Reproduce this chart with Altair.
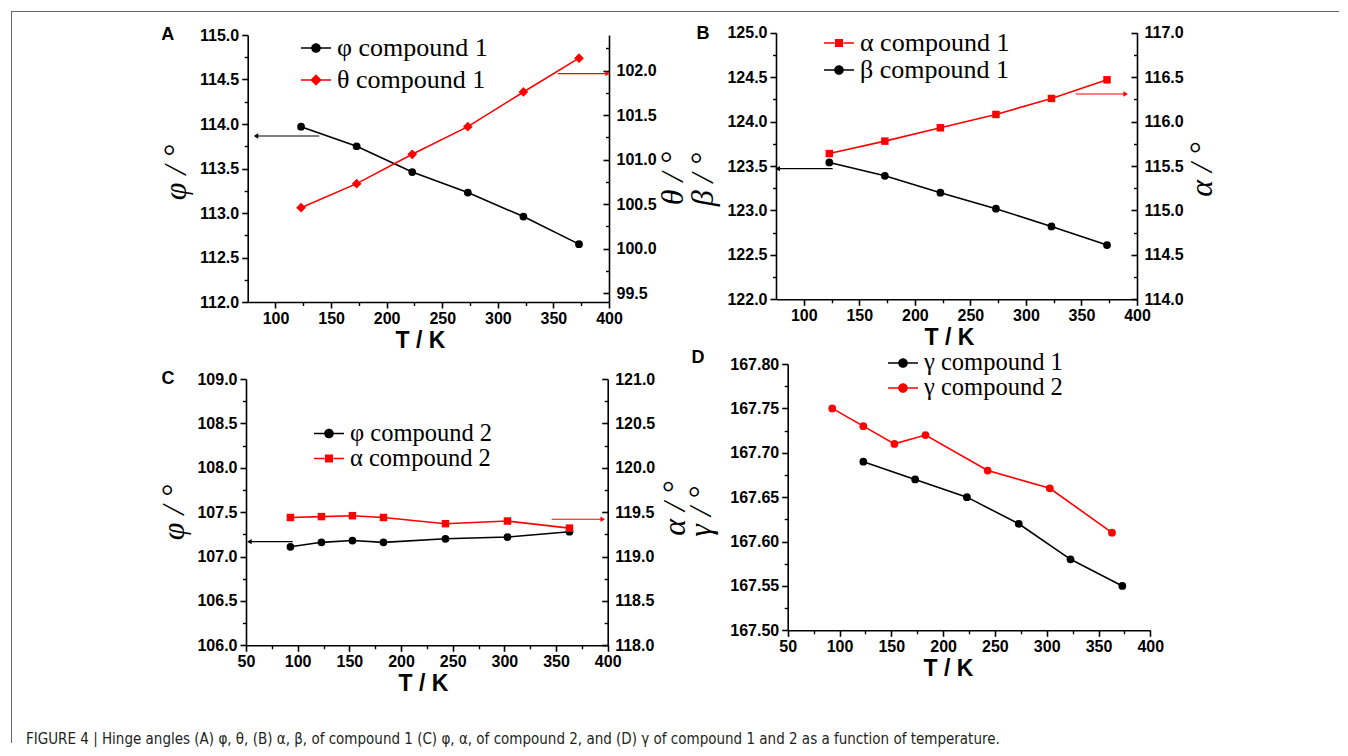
import altair as alt
import pandas as pd

# ------------------------------------------------------------------ data
# Panel A : compound 1, phi (left axis) and theta (right axis)
T_A = [123, 173, 223, 273, 323, 373]
PHI_C1 = [113.97, 113.75, 113.46, 113.23, 112.96, 112.65]
THETA_C1 = [100.46, 100.73, 101.06, 101.37, 101.76, 102.14]
# Panel B : compound 1, alpha (right axis) and beta (left axis)
T_B = [123, 173, 223, 273, 323, 373]
ALPHA_C1 = [115.64, 115.78, 115.93, 116.08, 116.26, 116.47]
BETA_C1 = [123.54, 123.39, 123.20, 123.02, 122.82, 122.61]
# Panel C : compound 2, phi (left axis) and alpha (right axis)
T_C = [93, 123, 153, 183, 243, 303, 363]
PHI_C2 = [107.11, 107.16, 107.18, 107.16, 107.20, 107.22, 107.28]
ALPHA_C2 = [119.44, 119.45, 119.46, 119.44, 119.37, 119.40, 119.32]
# Panel D : gamma of compounds 1 and 2
T_D1 = [123, 173, 223, 273, 323, 373]
GAMMA_C1 = [167.69, 167.67, 167.65, 167.62, 167.58, 167.55]
T_D2 = [93, 123, 153, 183, 243, 303, 363]
GAMMA_C2 = [167.75, 167.73, 167.71, 167.72, 167.68, 167.66, 167.61]

# series names (legend labels)
NAMES_A = ["φ compound 1", "θ compound 1"]
NAMES_B = ["α compound 1", "β compound 1"]
NAMES_C = ["φ compound 2", "α compound 2"]
NAMES_D = ["γ compound 1", "γ compound 2"]

# axis domains
XDOM_AB = [75, 400]
XDOM_CD = [50, 400]
YDOM_A_L, YDOM_A_R = [112.0, 115.0], [99.4, 102.4]
YDOM_B_L, YDOM_B_R = [122.0, 125.0], [114.0, 117.0]
YDOM_C_L, YDOM_C_R = [106.0, 109.0], [118.0, 121.0]
YDOM_D = [167.50, 167.80]

# tick values (major, labelled) and minor ticks
XT_AB = [100, 150, 200, 250, 300, 350, 400]
XM_AB = [125, 175, 225, 275, 325, 375]
XT_CD = [50, 100, 150, 200, 250, 300, 350, 400]
XM_CD = [75, 125, 175, 225, 275, 325, 375]
YT_A_L = [112.0, 112.5, 113.0, 113.5, 114.0, 114.5, 115.0]
YM_A_L = [112.25, 112.75, 113.25, 113.75, 114.25, 114.75]
YT_A_R = [99.5, 100.0, 100.5, 101.0, 101.5, 102.0]
YM_A_R = [99.75, 100.25, 100.75, 101.25, 101.75, 102.25]
YT_B_L = [122.0, 122.5, 123.0, 123.5, 124.0, 124.5, 125.0]
YM_B_L = [122.25, 122.75, 123.25, 123.75, 124.25, 124.75]
YT_B_R = [114.0, 114.5, 115.0, 115.5, 116.0, 116.5, 117.0]
YM_B_R = [114.25, 114.75, 115.25, 115.75, 116.25, 116.75]
YT_C_L = [106.0, 106.5, 107.0, 107.5, 108.0, 108.5, 109.0]
YM_C_L = [106.25, 106.75, 107.25, 107.75, 108.25, 108.75]
YT_C_R = [118.0, 118.5, 119.0, 119.5, 120.0, 120.5, 121.0]
YM_C_R = [118.25, 118.75, 119.25, 119.75, 120.25, 120.75]
YT_D = [167.50, 167.55, 167.60, 167.65, 167.70, 167.75, 167.80]
YM_D = [167.525, 167.575, 167.625, 167.675, 167.725, 167.775]

# annotation arrows: (T at tail, T at head, angle value)
ARROW_A_L = (139.4, 82.5, 113.865)
ARROW_A_R = (353.9, 398.8, 101.967)
ARROW_B_L = (126.0, 76.5, 123.47)
ARROW_B_R = (344.9, 389.8, 116.31)
ARROW_C_L = (95.2, 53.2, 107.167)
ARROW_C_R = (345.8, 395.2, 119.42)

CAPTION = ("FIGURE 4 | Hinge angles (A) φ, θ, (B) α, β, of compound 1 (C) φ, α, "
           "of compound 2, and (D) γ of compound 1 and 2 as a function of temperature.")

# ------------------------------------------------------------------ style / layout
SANS = "Liberation Sans"
SERIF = "Liberation Serif"
CAPTION_FONT = "'Liberation Sans Narrow', 'DejaVu Sans Condensed', 'Liberation Sans', sans-serif"
RED = "#ff0000"
BLACK = "#000000"
W, H = 1328, 715

# legend symbols: line segment + marker (unit coordinates)
LINE_PART = "M-1,-0.05H-0.3V0.05H-1Z M0.3,-0.05H1V0.05H0.3Z "
SYM_CIRCLE = LINE_PART + "M0.32,0A0.32,0.32 0 1,1 -0.32,0A0.32,0.32 0 1,1 0.32,0Z"
SYM_DIAMOND = LINE_PART + "M0,-0.38L0.38,0L0,0.38L-0.38,0Z"
SYM_SQUARE = LINE_PART + "M-0.27,-0.27H0.27V0.27H-0.27Z"


def sc(dom, rng):
    return alt.Scale(domain=dom, range=rng, nice=False, zero=False)


def major_axis(orient, values, fmt, offset, title=None, inward=False, **kw):
    d = dict(orient=orient, values=values, format=fmt, offset=offset, grid=False,
             domain=True, domainColor=BLACK, domainWidth=1.6, ticks=True,
             tickColor=BLACK, tickWidth=1.6, labelFont=SANS, labelFontWeight="bold",
             labelFontSize=16, labelColor=BLACK, labelFlush=False, labelOverlap=False)
    if inward:
        d["tickSize"] = {"expr": "-6"}
        d["labelPadding"] = 13
    else:
        d["tickSize"] = 6
        d["labelPadding"] = 3 if orient in ("left", "right") else 2
    d["title"] = title
    d.update(kw)
    return alt.Axis(**d)


def minor_axis(orient, values, offset, inward=False):
    d = dict(orient=orient, values=values, offset=offset, grid=False, labels=False,
             domain=False, ticks=True, tickColor=BLACK, tickWidth=1.4, title=None)
    d["tickSize"] = {"expr": "-3.5"} if inward else 3.5
    return alt.Axis(**d)


def ytitle_kw(tx, ty):
    # rotated serif title, centred at (tx, ty) relative to the axis group
    return dict(titleFont=SERIF, titleFontSize=32, titleFontWeight="normal",
                titleFontStyle="italic", titleColor=BLACK, titleAngle=270,
                titleAlign="center", titleBaseline="middle", titleX=tx, titleY=ty)


def xtitle_kw(tx):
    return dict(titleFont=SANS, titleFontSize=23, titleFontWeight="bold", titleColor=BLACK,
                titlePadding=3, titleX=tx)


def series(T, V, name, xs, ys, color, shape, size, xaxis=None, yaxis=None):
    df = pd.DataFrame({"T": T, "v": V, "series": name})
    base = alt.Chart(df)
    line = base.mark_line(color=color, strokeWidth=1.6).encode(
        x=alt.X("T:Q", scale=xs, axis=xaxis), y=alt.Y("v:Q", scale=ys, axis=yaxis))
    pts = base.mark_point(shape=shape, filled=True, color=color, size=size, opacity=1).encode(
        x=alt.X("T:Q", scale=xs, axis=None), y=alt.Y("v:Q", scale=ys, axis=None))
    return [line, pts]


def xminor(vals, xs, offset):
    return alt.Chart(pd.DataFrame({"t": vals})).mark_point(opacity=0).encode(
        x=alt.X("t:Q", scale=xs, axis=minor_axis("bottom", vals, offset)))


def yminor(vals, ys, orient, offset, inward=False):
    return alt.Chart(pd.DataFrame({"t": vals})).mark_point(opacity=0).encode(
        y=alt.Y("t:Q", scale=ys, axis=minor_axis(orient, vals, offset, inward)))


def arrow(spec, xs, ys, color):
    tail, head, val = spec
    df = pd.DataFrame({"x": [tail], "x2": [head], "y": [val]})
    rule = alt.Chart(df).mark_rule(color=color, strokeWidth=1.2).encode(
        x=alt.X("x:Q", scale=xs, axis=None), x2="x2:Q", y=alt.Y("y:Q", scale=ys, axis=None))
    tip = alt.Chart(df).mark_point(
        shape="triangle-left" if head < tail else "triangle-right",
        filled=True, color=color, size=28, opacity=1).encode(
        x=alt.X("x2:Q", scale=xs, axis=None), y=alt.Y("y:Q", scale=ys, axis=None))
    return [rule, tip]


def legend_entry(name, color, path, lx, ly, fs=26):
    leg = alt.Legend(orient="none", legendX=lx, legendY=ly, title=None, direction="vertical",
                     labelFont=SERIF, labelFontSize=fs, labelColor=BLACK, labelOffset=6,
                     labelLimit=400, symbolSize=900, symbolOpacity=1, symbolStrokeWidth=0,
                     padding=0)
    df = pd.DataFrame({"series": [name]})
    return alt.Chart(df).mark_point(filled=True, opacity=0).encode(
        color=alt.Color("series:N", scale=alt.Scale(domain=[name], range=[color]), legend=leg),
        shape=alt.Shape("series:N", scale=alt.Scale(domain=[name], range=[path]), legend=leg))


def letter(txt, x, y):
    return alt.Chart(pd.DataFrame({"t": [txt]})).mark_text(
        font=SANS, fontWeight="bold", fontSize=18, color=BLACK, align="center",
        baseline="middle").encode(text="t:N", x=alt.value(x), y=alt.value(y))


layers = []

# ---------------- panel A
xa = sc(XDOM_AB, [236.7, 598.0])
ya_l = sc(YDOM_A_L, [291, 24])
ya_r = sc(YDOM_A_R, [291, 24])
OX_A, OL_A, OR_A = 291 - H, -236.7, 598.0 - W
layers += series(T_A, PHI_C1, NAMES_A[0], xa, ya_l, BLACK, "circle", 60,
                 xaxis=major_axis("bottom", XT_AB, "d", OX_A, "T / K", **xtitle_kw(409)),
                 yaxis=major_axis("left", YT_A_L, ".1f", OL_A, "φ / °",
                                  **ytitle_kw(-72.2, 161)))
layers += series(T_A, THETA_C1, NAMES_A[1], xa, ya_r, RED, "diamond", 95,
                 yaxis=major_axis("right", YT_A_R, ".1f", OR_A, "θ / °", inward=True,
                                  **ytitle_kw(63, 167)))
layers += [xminor(XM_AB, xa, OX_A), yminor(YM_A_L, ya_l, "left", OL_A),
           yminor(YM_A_R, ya_r, "right", OR_A, inward=True)]
layers += arrow(ARROW_A_L, xa, ya_l, BLACK) + arrow(ARROW_A_R, xa, ya_r, RED)
layers += [legend_entry(NAMES_A[0], BLACK, SYM_CIRCLE, 290, 22),
           legend_entry(NAMES_A[1], RED, SYM_DIAMOND, 290, 54),
           letter("A", 156.7, 24)]

# ---------------- panel B
xb = sc(XDOM_AB, [765.0, 1126.0])
yb_l = sc(YDOM_B_L, [288.3, 21.7])
yb_r = sc(YDOM_B_R, [288.3, 21.7])
OX_B, OL_B, OR_B = 288.3 - H, -765.0, 1126.0 - W
layers += series(T_B, BETA_C1, NAMES_B[1], xb, yb_l, BLACK, "circle", 60,
                 xaxis=major_axis("bottom", XT_AB, "d", OX_B, "T / K", **xtitle_kw(938)),
                 yaxis=major_axis("left", YT_B_L, ".1f", OL_B, "β / °",
                                  **ytitle_kw(-73.5, 168)))
layers += series(T_B, ALPHA_C1, NAMES_B[0], xb, yb_r, RED, "square", 56,
                 yaxis=major_axis("right", YT_B_R, ".1f", OR_B, "α / °", inward=True,
                                  **ytitle_kw(64, 158)))
layers += [xminor(XM_AB, xb, OX_B), yminor(YM_B_L, yb_l, "left", OL_B),
           yminor(YM_B_R, yb_r, "right", OR_B, inward=True)]
layers += arrow(ARROW_B_L, xb, yb_l, BLACK) + arrow(ARROW_B_R, xb, yb_r, RED)
layers += [legend_entry(NAMES_B[0], RED, SYM_SQUARE, 813, 17),
           legend_entry(NAMES_B[1], BLACK, SYM_CIRCLE, 813, 44),
           letter("B", 692, 23)]

# ---------------- panel C
xc = sc(XDOM_CD, [235.0, 596.7])
yc_l = sc(YDOM_C_L, [634.3, 368])
yc_r = sc(YDOM_C_R, [634.3, 368])
OX_C, OL_C, OR_C = 634.3 - H, -235.0, 596.7 - W
layers += series(T_C, PHI_C2, NAMES_C[0], xc, yc_l, BLACK, "circle", 60,
                 xaxis=major_axis("bottom", XT_CD, "d", OX_C, "T / K", **xtitle_kw(412)),
                 yaxis=major_axis("left", YT_C_L, ".1f", OL_C, "φ / °",
                                  **ytitle_kw(-73, 501)))
layers += series(T_C, ALPHA_C2, NAMES_C[1], xc, yc_r, RED, "square", 56,
                 yaxis=major_axis("right", YT_C_R, ".1f", OR_C, "α / °", inward=True,
                                  **ytitle_kw(66.3, 497)))
layers += [xminor(XM_CD, xc, OX_C), yminor(YM_C_L, yc_l, "left", OL_C),
           yminor(YM_C_R, yc_r, "right", OR_C, inward=True)]
layers += arrow(ARROW_C_L, xc, yc_l, BLACK) + arrow(ARROW_C_R, xc, yc_r, RED)
layers += [legend_entry(NAMES_C[0], BLACK, SYM_CIRCLE, 303, 407.5, 24.5),
           legend_entry(NAMES_C[1], RED, SYM_SQUARE, 303, 432.5, 24.5),
           letter("C", 157, 368)]

# ---------------- panel D
xd = sc(XDOM_CD, [776.7, 1139.3])
yd = sc(YDOM_D, [619.3, 353])
OX_D, OL_D = 619.3 - H, -776.7
layers += series(T_D1, GAMMA_C1, NAMES_D[0], xd, yd, BLACK, "circle", 60,
                 xaxis=major_axis("bottom", XT_CD, "d", OX_D, "T / K", **xtitle_kw(937)),
                 yaxis=major_axis("left", YT_D, ".2f", OL_D, "γ / °",
                                  **ytitle_kw(-87.7, 500)))
layers += series(T_D2, GAMMA_C2, NAMES_D[1], xd, yd, RED, "circle", 60)
layers += [xminor(XM_CD, xd, OX_D), yminor(YM_D, yd, "left", OL_D)]
layers += [legend_entry(NAMES_D[0], BLACK, SYM_CIRCLE, 877, 337, 24.5),
           legend_entry(NAMES_D[1], RED, SYM_CIRCLE, 877, 362, 24.5),
           letter("D", 687, 347)]

# ---------------- frame (figure border, top and left)
one = pd.DataFrame({"k": [0]})
layers += [
    alt.Chart(one).mark_rule(color="#666666", strokeWidth=1).encode(
        x=alt.value(0), x2=alt.value(W), y=alt.value(0.5)),
    alt.Chart(one).mark_rule(color="#666666", strokeWidth=1).encode(
        x=alt.value(0.5), y=alt.value(0), y2=alt.value(732)),
]

chart = alt.layer(*layers).resolve_scale(
    x="independent", y="independent", color="independent", shape="independent"
).properties(
    width=W, height=H,
    padding={"left": 2, "top": 2, "right": 0, "bottom": 0},
    title=alt.TitleParams(text=CAPTION, orient="bottom", anchor="start", frame="group",
                          font=CAPTION_FONT, fontSize=15, fontWeight="normal",
                          color="#231f20", offset=0, dx=15, dy=-5, baseline="middle"),
).configure_view(stroke="transparent")

chart.save("out.html", embed_options={"renderer": "svg", "actions": False})
